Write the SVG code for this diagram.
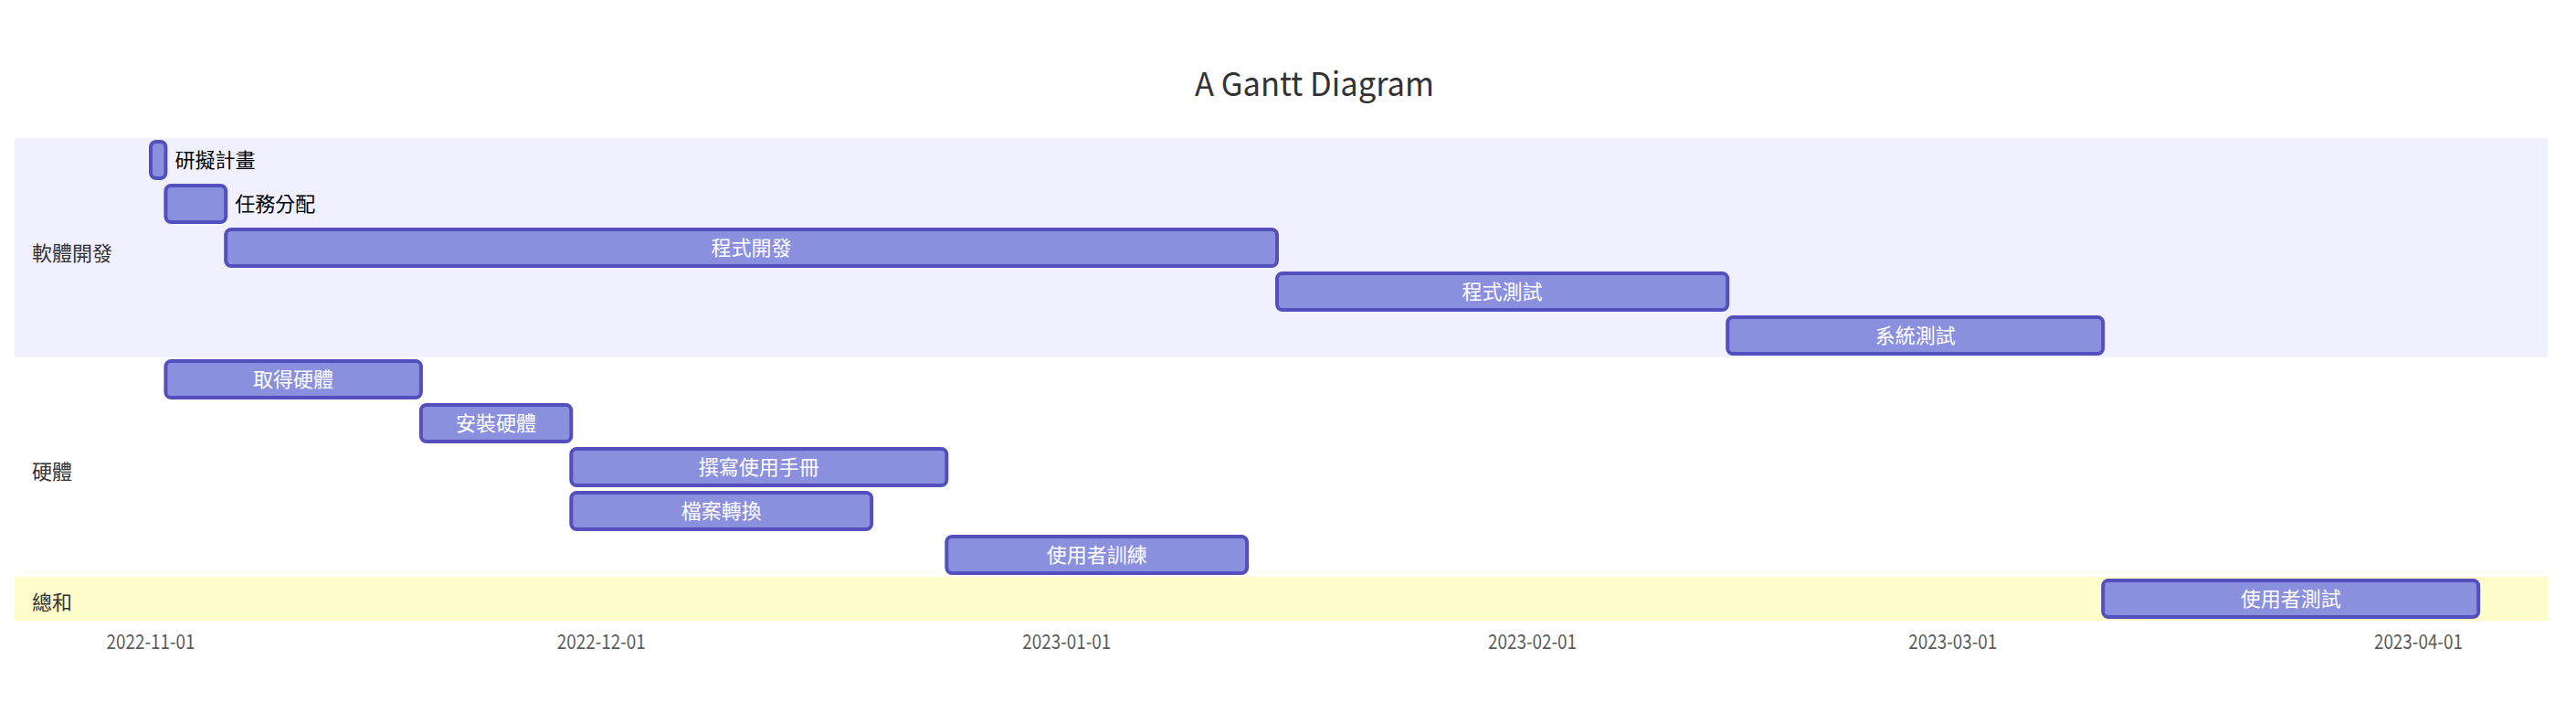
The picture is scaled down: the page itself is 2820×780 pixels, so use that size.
<svg xmlns="http://www.w3.org/2000/svg" width="2820" height="780" viewBox="0 0 2820 780">
<style>
text{font-family:"Noto Sans CJK TC","Noto Sans CJK SC",sans-serif;}
.title{font-size:36px;fill:#333;text-anchor:middle;}
.sec{font-size:22px;fill:#333;}
.tick{font-size:22px;fill:#333;opacity:0.8;text-anchor:middle;}
.task{fill:#8a90dd;stroke:#534fbc;stroke-width:4;}
.tin{font-size:22px;fill:#fff;text-anchor:middle;}
.tout{font-size:22px;fill:#000;}
</style>
<rect width="2820" height="780" fill="#fff"/>
<text class="title" x="1439" y="105" textLength="262" lengthAdjust="spacingAndGlyphs">A Gantt Diagram</text>
<g id="sections">
<rect x="16" y="151" width="2773" height="240" fill="#f0f0ff"/>
<rect x="16" y="391" width="2773" height="240" fill="#ffffff"/>
<rect x="16" y="631" width="2773" height="48" fill="#fffdcc"/>
</g>
<g id="axis">
<text class="tick" x="165" y="710" textLength="97" lengthAdjust="spacingAndGlyphs">2022-11-01</text>
<text class="tick" x="658.2" y="710" textLength="97" lengthAdjust="spacingAndGlyphs">2022-12-01</text>
<text class="tick" x="1167.8" y="710" textLength="97" lengthAdjust="spacingAndGlyphs">2023-01-01</text>
<text class="tick" x="1677.5" y="710" textLength="97" lengthAdjust="spacingAndGlyphs">2023-02-01</text>
<text class="tick" x="2137.8" y="710" textLength="97" lengthAdjust="spacingAndGlyphs">2023-03-01</text>
<text class="tick" x="2647.4" y="710" textLength="97" lengthAdjust="spacingAndGlyphs">2023-04-01</text>
</g>
<g id="section-labels">
<text class="sec" x="35" y="285">軟體開發</text>
<text class="sec" x="35" y="524">硬體</text>
<text class="sec" x="35" y="667">總和</text>
</g>
<g id="connectors"></g>
<g id="task-a1"><rect class="task" x="165" y="155" width="16.4" height="40" rx="6"/><text class="tout" x="191.4" y="183">研擬計畫</text></g>
<g id="task-a2"><rect class="task" x="181.4" y="203" width="65.8" height="40" rx="6"/><text class="tout" x="257.2" y="231">任務分配</text></g>
<g id="task-a3"><rect class="task" x="247.2" y="251" width="1150.8" height="40" rx="6"/><text class="tin" x="822.6" y="279">程式開發</text></g>
<g id="task-a4"><rect class="task" x="1398" y="299" width="493.2" height="40" rx="6"/><text class="tin" x="1644.6" y="327">程式測試</text></g>
<g id="task-a5"><rect class="task" x="1891.2" y="347" width="411" height="40" rx="6"/><text class="tin" x="2096.7" y="375">系統測試</text></g>
<g id="task-b1"><rect class="task" x="181.4" y="395" width="279.5" height="40" rx="6"/><text class="tin" x="321.1" y="423">取得硬體</text></g>
<g id="task-b2"><rect class="task" x="460.9" y="443" width="164.4" height="40" rx="6"/><text class="tin" x="543.1" y="471">安裝硬體</text></g>
<g id="task-b3"><rect class="task" x="625.3" y="491" width="411" height="40" rx="6"/><text class="tin" x="830.8" y="519">撰寫使用手冊</text></g>
<g id="task-b4"><rect class="task" x="625.3" y="539" width="328.8" height="40" rx="6"/><text class="tin" x="789.7" y="567">檔案轉換</text></g>
<g id="task-b5"><rect class="task" x="1036.3" y="587" width="328.8" height="40" rx="6"/><text class="tin" x="1200.7" y="615">使用者訓練</text></g>
<g id="task-c1"><rect class="task" x="2302.2" y="635" width="411" height="40" rx="6"/><text class="tin" x="2507.7" y="663">使用者測試</text></g>
</svg>
